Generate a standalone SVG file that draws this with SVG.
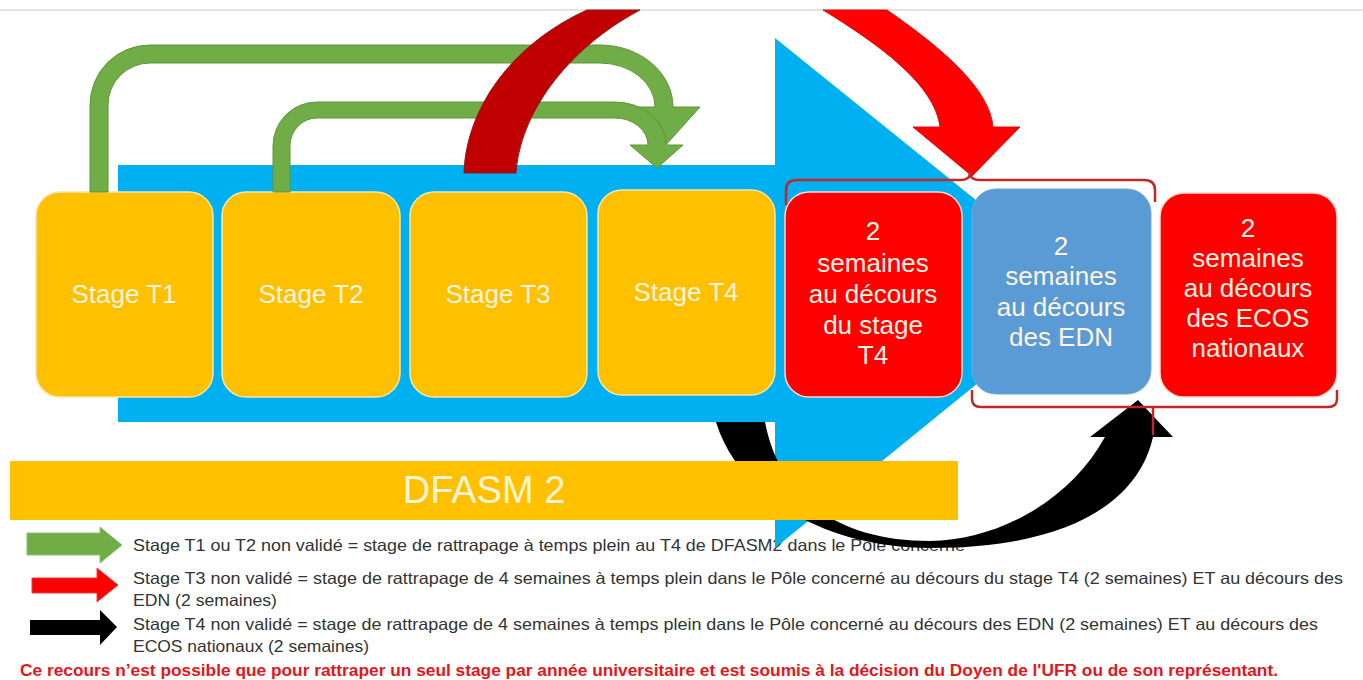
<svg xmlns="http://www.w3.org/2000/svg" width="1363" height="680" viewBox="0 0 1363 680">
  <style>
    .box-text { font-family: "Liberation Sans", Arial, sans-serif; font-size: 26px; fill: #FFF4E2; text-anchor: middle; }
    .legend { font-family: "Liberation Sans", Arial, sans-serif; font-size: 16.5px; fill: #333333; }
    .footer { font-family: "Liberation Sans", Arial, sans-serif; font-size: 16px; font-weight: bold; fill: #E4161B; }
    .yellow { fill: #FFC000; stroke: #F6E7A8; stroke-width: 1.5; }
    .red { fill: #FF0000; stroke: #F9D9D0; stroke-width: 1.5; }
    .blue { fill: #5B9BD5; stroke: #6FA8DC; stroke-width: 1; }
    .green { fill: #70AD47; stroke: #5E9539; stroke-width: 1; }
    .brace { fill: none; stroke: #C0282B; stroke-width: 2.5; stroke-linejoin: round; }
  </style>
  <defs>
    <mask id="barMask" maskUnits="userSpaceOnUse" x="0" y="0" width="1363" height="680">
      <rect x="0" y="0" width="1363" height="680" fill="#fff"/>
      <rect x="10" y="461" width="948" height="59" fill="#000"/>
    </mask>
  </defs>

  <rect x="0" y="0" width="1363" height="680" fill="#FFFFFF"/>
  <line x1="0" y1="10" x2="1363" y2="10" stroke="#DADADA" stroke-width="1.5"/>

  <!-- legend texts -->
  <g id="legend-text">
    <text class="legend" x="133" y="551" textLength="832" lengthAdjust="spacingAndGlyphs">Stage T1 ou T2 non validé = stage de rattrapage à temps plein au T4 de DFASM2 dans le Pôle concerné</text>
    <text class="legend" x="133" y="584" textLength="1210" lengthAdjust="spacingAndGlyphs">Stage T3 non validé = stage de rattrapage de 4 semaines à temps plein dans le Pôle concerné au décours du stage T4 (2 semaines) ET au décours des</text>
    <text class="legend" x="133" y="606" textLength="144" lengthAdjust="spacingAndGlyphs">EDN (2 semaines)</text>
    <text class="legend" x="133" y="630" textLength="1185" lengthAdjust="spacingAndGlyphs">Stage T4 non validé = stage de rattrapage de 4 semaines à temps plein dans le Pôle concerné au décours des EDN (2 semaines) ET au décours des</text>
    <text class="legend" x="133" y="652" textLength="236" lengthAdjust="spacingAndGlyphs">ECOS nationaux (2 semaines)</text>
  </g>

  <!-- big timeline arrow -->
  <g id="timeline-arrow">
    <path d="M118,165 L775,165 L775,38 L1090,292 L775,548 L775,422 L118,422 Z" fill="#00B0F0"/>
  </g>

  <g id="dfasm2">
    <rect x="10" y="461" width="948" height="59" fill="#FFC000"/>
    <text x="484" y="503" font-family="'Liberation Sans', Arial, sans-serif" font-size="38" fill="#FFF4D6" text-anchor="middle">DFASM 2</text>
  </g>

  <g id="stage-t1">
    <rect class="yellow" x="36" y="192" width="177" height="205" rx="24"/>
    <text class="box-text" x="124" y="303">Stage T1</text>
  </g>
  <g id="stage-t2">
    <rect class="yellow" x="222" y="192" width="178" height="205" rx="24"/>
    <text class="box-text" x="311" y="303">Stage T2</text>
  </g>
  <g id="stage-t3">
    <rect class="yellow" x="410" y="192" width="177" height="205" rx="24"/>
    <text class="box-text" x="498" y="303">Stage T3</text>
  </g>
  <g id="stage-t4">
    <rect class="yellow" x="598" y="190" width="177" height="205" rx="24"/>
    <text class="box-text" x="686" y="301">Stage T4</text>
  </g>
  <g id="after-t4">
    <rect class="red" x="785" y="192" width="177" height="205" rx="24"/>
    <text class="box-text" x="873" y="240">2</text>
    <text class="box-text" x="873" y="272">semaines</text>
    <text class="box-text" x="873" y="303">au décours</text>
    <text class="box-text" x="873" y="334">du stage</text>
    <text class="box-text" x="873" y="364">T4</text>
  </g>
  <g id="after-edn">
    <rect class="blue" x="972" y="189" width="179" height="205" rx="24"/>
    <text class="box-text" x="1061" y="255">2</text>
    <text class="box-text" x="1061" y="285">semaines</text>
    <text class="box-text" x="1061" y="316">au décours</text>
    <text class="box-text" x="1061" y="346">des EDN</text>
  </g>
  <g id="after-ecos">
    <rect class="red" x="1160" y="193" width="177" height="204" rx="24"/>
    <text class="box-text" x="1248" y="237">2</text>
    <text class="box-text" x="1248" y="267">semaines</text>
    <text class="box-text" x="1248" y="297">au décours</text>
    <text class="box-text" x="1248" y="327">des ECOS</text>
    <text class="box-text" x="1248" y="357">nationaux</text>
  </g>

  <g id="connectors">
    <!-- green: T1 -> T4 -->
    <path class="green" d="M90,192 L90,105 A60,60 0 0 1 150,45 L600,45 A73,62 0 0 1 673,107 L700,107 L664,147 L630,107 L655,107 A55,44 0 0 0 600,63 L150,63 A42,42 0 0 0 108,105 L108,192 Z"/>
    <!-- green: T2 -> T4 -->
    <path class="green" d="M273,192 L273,146 A44,44 0 0 1 317,102 L615,102 A51,43 0 0 1 666,145 L683,145 L657,168 L630,145 L648,145 A33,27 0 0 0 615,118 L317,118 A27,28 0 0 0 290,146 L290,192 Z"/>
    <!-- red: T3 -> after T4 / EDN -->
    <path d="M464,173 C466,110 510,45 587,10 L640,10 C565,50 520,115 516,173 Z" fill="#C00000" stroke="#8E1A1A" stroke-width="1"/>
    <path d="M823,10 L887,10 C945,50 990,90 993,127 L1020,127 L972,176 L913,127 L940,127 C935,85 880,45 823,10 Z" fill="#FF0000" stroke="#D01010" stroke-width="1"/>
    <!-- black: T4 -> EDN / ECOS -->
    <path mask="url(#barMask)" d="M716,422 C740,500 830,548 930,548 C1080,548 1140,495 1153,437 L1173,437 L1138,400 L1090,437 L1105,437 C1070,500 1000,540 930,541 C840,541 780,500 765,422 Z" fill="#000000"/>
    <!-- braces -->
    <path class="brace" d="M786,205 L786,190 Q786,180 797,180 L960,180 Q970,180 970,173 Q970,180 980,180 L1144,180 Q1155,180 1155,190 L1155,202"/>
    <path class="brace" d="M972,390 L972,399 Q972,407 981,407 L1328,407 Q1337,407 1337,399 L1337,390 M1153,407 L1153,435"/>
  </g>

  <!-- legend arrows -->
  <g id="legend-arrows">
    <path d="M27,533 L100,533 L100,527 L122,545 L100,563 L100,555 L27,555 Z" fill="#70AD47" stroke="#8FC06B" stroke-width="1"/>
    <path d="M32,578 L97,578 L97,568 L118,585 L97,602 L97,593 L32,593 Z" fill="#FF0000" stroke="#E04040" stroke-width="1"/>
    <path d="M30,620 L100,620 L100,610 L117,627 L100,645 L100,635 L30,635 Z" fill="#000000"/>
  </g>

  <text class="footer" x="20" y="676" textLength="1258" lengthAdjust="spacingAndGlyphs">Ce recours n’est possible que pour rattraper un seul stage par année universitaire et est soumis à la décision du Doyen de l'UFR ou de son représentant.</text>
</svg>
